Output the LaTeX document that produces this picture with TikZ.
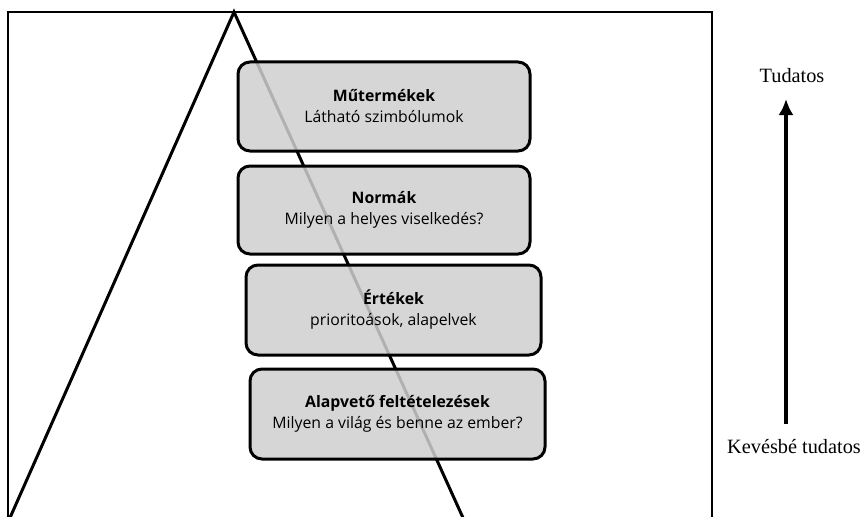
\documentclass[tikz,border=0pt]{standalone}
\usetikzlibrary{arrows.meta}
\usepackage{fontspec}
\setmainfont{Liberation Serif}
\newfontfamily\boxfont{Open Sans}
\definecolor{boxgray}{HTML}{CFCFCF}
\begin{document}
\begin{tikzpicture}[x=1pt,y=-1pt,
  layerbox/.style={draw=black, line width=3pt, rounded corners=12pt, fill=boxgray, fill opacity=0.85, text opacity=1, align=center, font=\boxfont\fontsize{15.8}{21}\selectfont, inner sep=0pt},
  sidelabel/.style={font=\fontsize{20.3}{24}\selectfont, inner sep=0pt}]
\useasboundingbox (0,0) rectangle (866,516);
% frame
\draw[line width=2pt] (8,530) -- (8,12) -- (712,12) -- (712,530);
% triangle
\coordinate (apex) at (234,12);
\coordinate (bl) at (9,520);
\coordinate (br) at (464,520);
\draw[line width=3pt, line join=miter] (bl) -- (apex) -- (br);
% boxes
\node[layerbox, minimum width=292pt, minimum height=89pt] (b1) at (384,106.5) {\textbf{Műtermékek}\\Látható szimbólumok};
\node[layerbox, minimum width=292pt, minimum height=88pt] (b2) at (384,210) {\textbf{Normák}\\Milyen a helyes viselkedés?};
\node[layerbox, minimum width=295pt, minimum height=90pt] (b3) at (393.5,310) {\textbf{Értékek}\\prioritoások, alapelvek};
\node[layerbox, minimum width=295pt, minimum height=90pt] (b4) at (397.5,414) {\textbf{Alapvető feltételezések}\\Milyen a világ és benne az ember?};
% side labels
\node[sidelabel] (top) at (792,76) {Tudatos};
\node[sidelabel] (bot) at (794,447) {Kevésbé tudatos};
\coordinate (arrs) at (786,424);
\coordinate (arre) at (786,99);
\draw[line width=4.5pt, -{Latex[length=16pt,width=15pt]}] (arrs) -- (arre);
\end{tikzpicture}
\end{document}
